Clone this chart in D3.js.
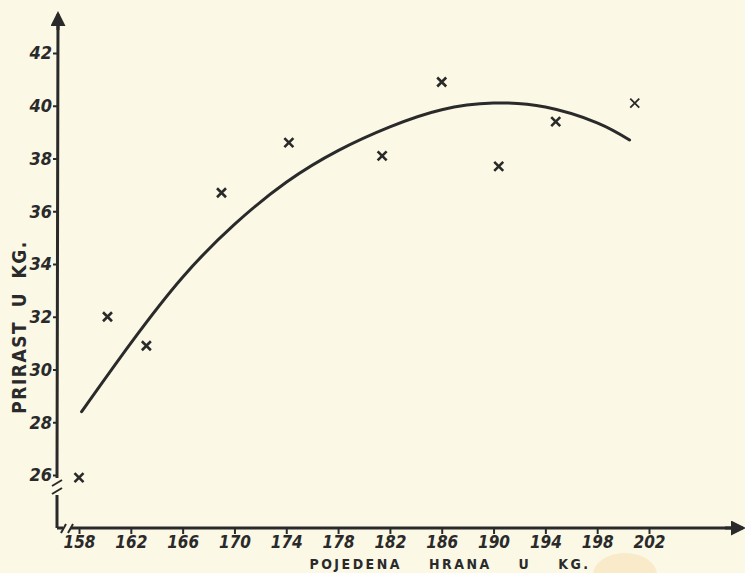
<!DOCTYPE html>
<html><head><meta charset="utf-8">
<script src="https://cdn.jsdelivr.net/npm/d3@7"></script>
<style>
html,body{margin:0;padding:0;background:#fbf8e6;}
svg{display:block;}
</style></head>
<body>
<script>
// Observed points: food eaten (kg) vs gain (kg)
const foodEaten = [158.0, 160.2, 163.2, 169.0, 174.2, 181.4, 186.0, 190.4, 194.8, 200.9];
const weightGain = [25.9, 32.0, 30.9, 36.7, 38.6, 38.1, 40.9, 37.7, 39.4, 40.1];
// Fitted curve
const curveX = [158.2, 162, 166, 170, 174, 178, 182, 186, 190, 194, 198, 200.5];
const curveY = [28.4, 31.0, 33.5, 35.5, 37.1, 38.3, 39.2, 39.85, 40.1, 39.95, 39.35, 38.7];
const xTicks = [158, 162, 166, 170, 174, 178, 182, 186, 190, 194, 198, 202];
const yTicks = [26, 28, 30, 32, 34, 36, 38, 40, 42];
const xTitle = "POJEDENA HRANA U KG.";
const yTitle = "PRIRAST U KG.";

const W = 745, H = 573;
const ink = "#2a2a2a";
const font = "'DejaVu Sans Condensed','DejaVu Sans',sans-serif";

const svg = d3.select("body").append("svg").attr("width", W).attr("height", H);
svg.append("rect").attr("width", W).attr("height", H).attr("fill", "#fbf8e6");
// faint stain at bottom
svg.append("ellipse").attr("cx", 625).attr("cy", 575).attr("rx", 32).attr("ry", 22).attr("fill", "#f9e6c2").attr("opacity", 0.8);

const x = d3.scaleLinear().domain([158, 202]).range([79, 649]);
const y = d3.scaleLinear().domain([26, 42]).range([475, 53]);

const axX0 = 57, axY0 = 528;

// axis lines with arrows
svg.append("defs").append("marker").attr("id", "arr").attr("viewBox", "0 0 10 10")
  .attr("refX", 8).attr("refY", 5).attr("markerWidth", 5).attr("markerHeight", 5).attr("orient", "auto")
  .append("path").attr("d", "M0,0 L10,5 L0,10 Z").attr("fill", ink);

svg.append("path").attr("d", `M${axX0},${axY0} L${axX0},495 M${axX0},478 L${axX0+1},16`)
  .attr("stroke", ink).attr("stroke-width", 3).attr("fill", "none");
svg.append("line").attr("x1", axX0 + 1).attr("y1", 30).attr("x2", axX0 + 1).attr("y2", 14)
  .attr("stroke", ink).attr("stroke-width", 3).attr("marker-end", "url(#arr)");
// y break marks
svg.append("path").attr("d", `M${axX0-5},${486} L${axX0+5},${480} M${axX0-5},${494} L${axX0+5},${488}`)
  .attr("stroke", ink).attr("stroke-width", 2).attr("fill", "none");

svg.append("path").attr("d", `M${axX0},${axY0} L${axX0+6},${axY0} M${axX0+14},${axY0} L742,${axY0}`)
  .attr("stroke", ink).attr("stroke-width", 3).attr("fill", "none");
svg.append("line").attr("x1", 725).attr("y1", axY0).attr("x2", 743).attr("y2", axY0)
  .attr("stroke", ink).attr("stroke-width", 3).attr("marker-end", "url(#arr)");
svg.append("path").attr("d", `M${axX0+4},${axY0+5} L${axX0+9},${axY0-4} M${axX0+11},${axY0+5} L${axX0+16},${axY0-4}`)
  .attr("stroke", ink).attr("stroke-width", 2).attr("fill", "none");

// axes via d3
const gx = svg.append("g").attr("transform", `translate(0,${axY0})`)
  .call(d3.axisBottom(x).tickValues(xTicks).tickSize(6).tickPadding(2).tickFormat(d3.format("d")));
gx.select(".domain").remove();
gx.selectAll(".tick line").attr("stroke", ink).attr("stroke-width", 2);
gx.selectAll(".tick text").attr("fill", ink).attr("font-family", font).attr("font-weight", "bold")
  .attr("font-style", "italic").attr("font-size", 17).attr("dy", "0.72em");

const gy = svg.append("g").attr("transform", `translate(${axX0},0)`)
  .call(d3.axisLeft(y).tickValues(yTicks).tickSize(4).tickPadding(1).tickFormat(d3.format("d")));
gy.select(".domain").remove();
gy.selectAll(".tick line").attr("stroke", ink).attr("stroke-width", 2);
gy.selectAll(".tick text").attr("fill", ink).attr("font-family", font).attr("font-weight", "bold")
  .attr("font-style", "italic").attr("font-size", 18);

// titles
svg.append("text").attr("transform", "translate(26,327) rotate(-90)").attr("text-anchor", "middle")
  .attr("font-family", font).attr("font-weight", "bold").attr("font-size", 19)
  .attr("letter-spacing", 1.5).attr("word-spacing", 6).attr("fill", ink).text(yTitle);
svg.append("text").attr("x", 450).attr("y", 569).attr("text-anchor", "middle")
  .attr("font-family", font).attr("font-weight", "bold").attr("font-size", 14)
  .attr("letter-spacing", 2.5).attr("word-spacing", 20).attr("fill", ink).text(xTitle);

// fitted curve
const pts = curveX.map((v, i) => [x(v), y(curveY[i])]);
svg.append("path").attr("d", d3.line().curve(d3.curveNatural)(pts))
  .attr("fill", "none").attr("stroke", ink).attr("stroke-width", 3).attr("stroke-linecap", "round");

// crosses
const s = 4.5;
svg.append("g").selectAll("path").data(foodEaten).join("path")
  .attr("d", (d, i) => {
    const cx = x(d), cy = y(weightGain[i]);
    return `M${cx-s},${cy-s} L${cx+s},${cy+s} M${cx-s},${cy+s} L${cx+s},${cy-s}`;
  })
  .attr("stroke", ink).attr("stroke-width", (d, i) => i === foodEaten.length - 1 ? 1.8 : 2.6).attr("fill", "none");
</script>
</body></html>
